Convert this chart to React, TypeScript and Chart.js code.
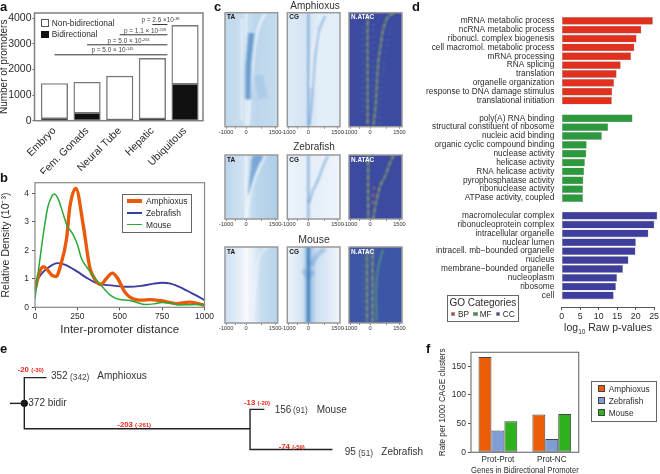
import React, { useEffect, useRef } from "react";
import Chart from "chart.js/auto";

const FONT = "'Liberation Sans', Arial, sans-serif";
const INK = "#2b2b2b";
const FRAME = "#808080";

// ---------- panel a
const tissues = ["Embryo", "Fem. Gonads", "Neural Tube", "Hepatic", "Ubiquitous"];
const bidirectional = [80, 300, 30, 70, 1430];
const nonBidirectional = [1370, 1200, 1710, 2360, 2290];
const pLine1 = [[3, 3750], [3.46, 3750]];
const pLine2 = [[2, 3350], [3.46, 3350]];
const pLine3 = [[1, 2960], [3.46, 2960]];
const pLine4 = [[0, 2570], [3.46, 2570]];

// ---------- panel b
const amphioxusDensity = [[0, .6], [25, 1.2], [50, 1.42], [75, 1.3], [100, 1.12], [125, 1.08], [150, 1.45], [186, 2.4], [205, 3.5], [241, 4.17], [284, 2.9], [323, 1.4], [352, 1], [387, .8], [420, 1], [456, 1.2], [489, 1], [528, .55], [577, .3], [636, .25], [675, .27], [753, .22], [832, .13], [910, .18], [968, .12], [1000, .07]];
const zebrafishDensity = [[0, .85], [50, 1.25], [100, 1.48], [130, 1.55], [175, 1.5], [250, 1.25], [300, 1.05], [375, .82], [450, .77], [550, .72], [625, .75], [700, .83], [750, .86], [800, .83], [875, .65], [950, .42], [1000, .25]];
const mouseDensity = [[0, .3], [25, 1.5], [50, 2.6], [75, 3.5], [100, 3.9], [115, 3.97], [140, 3.75], [170, 3.2], [190, 2.85], [225, 2.55], [250, 2.2], [275, 1.7], [300, 1.45], [350, 1.05], [400, .7], [450, .4], [500, .27], [550, .25], [600, .17], [650, .1], [700, .12], [750, .17], [800, .15], [850, .08], [900, .09], [1000, .1]];

// ---------- panel c: profile ridges as [bp from TSS, fraction of rows]
const amphTaGap = [[111, .985], [159, .795], [238, .62], [350, .385], [477, .21], [668, .09], [906, .006]];
const amphTaCore = [[95, .76], [100, .47], [170, .33], [250, .18]];
const amphTaLeft = [[-200, .05], [-200, .95]];
const amphTaRight = [[600, .55], [800, .75]];
const tssLine = [[0, 0], [0, 1]];
const amphCgRidge = [[48, .985], [159, .795], [270, .47], [366, .3], [509, .15], [795, .03]];
const amphCgGap = [[110, .66], [210, .36], [400, .15]];
const amphAtacTss = [[-125, .02], [-125, .98]];
const amphAtacLeft = [[-360, .12], [-360, .9]];
const amphAtacMain = [[156, .98], [265, .8], [375, .445], [484, .3], [609, .15], [843, .035], [1155, 0]];
const amphAtacRight = [[420, .98], [560, .6], [760, .32], [1000, .1]];
const amphAtacMid = [[140, .1], [140, .85]];

const zebTaPatch = [[95, .62], [221, .23], [332, .02], [805, .02], [568, .18], [332, .39], [126, .62]];
const zebTaGap = [[47, .99], [95, .78], [221, .55], [411, .36], [648, .18], [885, .01]];
const zebCgRidge = [[32, .75], [221, .55], [458, .39], [695, .18], [932, .01]];
const zebAtacTss = [[-95, .0], [-95, 1]];
const zebAtacMain = [[140, .99], [265, .76], [375, .6], [484, .47], [690, .34], [925, .13], [1115, 0]];
const zebAtacShort = [[110, .76], [175, .5]];

const mouseTaWedge = [[300, .95], [450, .45], [620, .12], [1000, 0]];
const mouseCgCore = [[0, 0], [0, 1]];
const mouseCgPatch = [[-250, .3], [0, .38], [250, .32]];
const mouseCgArm = [[100, .25], [450, .1], [800, .02]];
const mouseAtacA = [[-150, .05], [-150, .98]];
const mouseAtacB = [[110, .02], [110, .98]];
const mouseAtacC = [[300, .98], [290, .5], [430, .2], [620, .03]];
const mouseAtacD = [[-330, .15], [-330, .95]];

const amphTaStops: [number, string][] = [[-1000, "#bfd8ed"], [0, "#cadfef"], [500, "#bcd6ec"], [1500, "#c6dcee"]];
const amphCgStops: [number, string][] = [[-1000, "#dfebf7"], [0, "#d3e4f4"], [500, "#e2eef8"], [1500, "#e2edf8"]];
const zebTaStops: [number, string][] = [[-1000, "#bcd6ec"], [0, "#d5e5f3"], [500, "#bcd6ec"], [1500, "#b0cee8"]];
const zebCgStops: [number, string][] = [[-1000, "#ecf3fa"], [0, "#e3eef8"], [1500, "#edf4fa"]];
const mouseTaStops: [number, string][] = [[-1000, "#cde0f1"], [-500, "#dfebf6"], [0, "#f2f6fb"], [300, "#e9f1f9"], [700, "#c8ddef"], [1500, "#b7d3ea"]];
const mouseCgStops: [number, string][] = [[-1000, "#eef4fb"], [-300, "#d5e5f3"], [0, "#8fb9de"], [400, "#cde0f1"], [1500, "#eff5fb"]];
const atacBlue: [number, string][] = [[-1000, "#3c4aa2"], [1500, "#3c4aa2"]];
const atacMouse: [number, string][] = [[-1000, "#3d56a6"], [1500, "#3d56a6"]];

// ---------- panel d
const bpLabels = ["mRNA metabolic process", "ncRNA metabolic process", "ribonucl. complex biogenesis", "cell macromol. metabolic process", "mRNA processing", "RNA splicing", "translation", "organelle organization", "response to DNA damage stimulus", "translational initiation"];
const bpValues = [24.6, 21.5, 20.2, 19.6, 18.7, 15.9, 14.8, 14.1, 13.6, 13.5];
const mfLabels = ["poly(A) RNA binding", "structural constituent of ribosome", "nucleic acid binding", "organic cyclic compound binding", "nuclease activity", "helicase activity", "RNA helicase activity", "pyrophosphatase activity", "ribonuclease activity", "ATPase activity, coupled"];
const mfValues = [19.1, 12.5, 10.8, 6.7, 6.6, 6.2, 6.0, 5.8, 5.7, 5.7];
const ccLabels = ["macromolecular complex", "ribonucleoprotein complex", "intracellular organelle", "nuclear lumen", "intracell. mb\u2212bounded organelle", "nucleus", "membrane\u2212bounded organelle", "nucleoplasm", "ribosome", "cell"];
const ccValues = [25.8, 25, 23.4, 20, 19.9, 18, 16.5, 14.9, 14.6, 14];
const pValueTicks = [0, 5, 10, 15, 20, 25];

// ---------- panel e (x: branch length units from the root node, y: tree row)
const treeStem = [[-14.7, 68.3], [0, 68.3]];
const treeTrunk = [[22.6, 41], [0, 41], [0, 95.3], [230, 95.3]];
const treeMouseSplit = [[244.6, 74.7], [230, 74.7], [230, 117.3], [314, 117.3]];
const treeRoot = [[0, 68.3]];

// ---------- panel f
const pairTypes = ["Prot-Prot", "Prot-NC"];
const rateAmphioxus = [166, 66];
const rateZebrafish = [38, 23];
const rateMouse = [54, 67];

const ORANGE = "#ea5a0c";
const BAR_RED = "#e1301e";
const BAR_GREEN = "#2a9a3c";
const BAR_BLUE = "#3f3d9e";

const pts = (a: number[][]) => a.map(([x, y]) => ({ x, y }));

const framePlugin = (color = FRAME, width = 1.5) => ({
  id: "frame",
  afterDatasetsDraw(chart: any) {
    const { left, top, right, bottom } = chart.chartArea;
    const c = chart.ctx;
    c.save();
    c.strokeStyle = color;
    c.lineWidth = width;
    c.strokeRect(left, top, right - left, bottom - top);
    c.restore();
  },
});

const bgPlugin = (stops: [number, string][]) => ({
  id: "bgStops",
  beforeDatasetsDraw(chart: any) {
    const { left, top, right, bottom } = chart.chartArea;
    const c = chart.ctx;
    const g = c.createLinearGradient(left, 0, right, 0);
    const sc = chart.scales.x;
    stops.forEach(([v, col]) => g.addColorStop((sc.getPixelForValue(v) - left) / (right - left), col));
    c.save();
    c.fillStyle = g;
    c.fillRect(left, top, right - left, bottom - top);
    c.restore();
    c.filter = "blur(1px)";
  },
  afterDatasetsDraw(chart: any) {
    chart.ctx.filter = "none";
  },
});

type Rect = [number, number, number, number];
type Plot = { l: number; t: number; r: number; b: number };
const layoutOf = (rect: Rect, p: Plot) => ({
  padding: { left: 0, top: p.t - rect[1], right: rect[0] + rect[2] - p.r, bottom: 0 },
});
const base = (rect: Rect, p: Plot, extra: any = {}) => ({
  responsive: false,
  animation: false,
  events: [],
  layout: layoutOf(rect, p),
  plugins: { legend: { display: false }, tooltip: { enabled: false }, title: { display: false } },
  ...extra,
});
const fitW = (rect: Rect, p: Plot) => (s: any) => { s.width = p.l - rect[0]; };
const fitH = (rect: Rect, p: Plot) => (s: any) => { s.height = rect[1] + rect[3] - p.b; };
const tickGrid = (len = 3) => ({ drawOnChartArea: false, tickLength: len, color: "#555", offset: false });
const plainNumber = (v: number) => String(v);

// ---- panel a
const aRect: Rect = [-2, 0, 217, 174];
const aPlot: Plot = { l: 34.5, t: 13, r: 203, b: 120.7 };
const pLine = (d: number[][], id: string) => ({ type: "line", stack: id, data: pts(d), borderColor: "#333", borderWidth: 1, pointRadius: 0, tension: 0 });
const aConfig = {
  type: "bar",
  data: {
    datasets: [
      { label: "Bidirectional", data: bidirectional.map((y, x) => ({ x, y })), backgroundColor: "#111", borderColor: "#777", borderWidth: 1.4, barThickness: 26.5, borderSkipped: false },
      { label: "Non-bidirectional", data: nonBidirectional.map((y, x) => ({ x, y })), backgroundColor: "#fff", borderColor: "#777", borderWidth: 1.4, barThickness: 26.5, borderSkipped: false },
      pLine(pLine1, "p1"), pLine(pLine2, "p2"), pLine(pLine3, "p3"), pLine(pLine4, "p4"),
    ],
  },
  options: base(aRect, aPlot, {
    scales: {
      x: {
        type: "linear", stacked: true, offset: false, min: -0.61, max: 4.55,
        afterBuildTicks: (s: any) => { s.ticks = tissues.map((_, value) => ({ value })); },
        afterFit: fitH(aRect, aPlot),
        grid: { display: false, drawTicks: false, offset: false },
        border: { display: false },
        ticks: { autoSkip: false, minRotation: 45, maxRotation: 45, padding: 4, color: INK, font: { family: FONT, size: 10.5 }, callback: (v: number) => tissues[v] ?? "" },
      },
      y: {
        stacked: true, min: 0, max: 4200,
        afterBuildTicks: (s: any) => { s.ticks = [0, 1000, 2000, 3000, 4000].map((value) => ({ value })); },
        afterFit: fitW(aRect, aPlot),
        grid: tickGrid(2), border: { display: false },
        ticks: { padding: 1, color: INK, font: { family: FONT, size: 10.5 }, callback: plainNumber },
        title: { display: true, text: "Number of promoters", color: INK, padding: 0, font: { family: FONT, size: 10 } },
      },
    },
  }),
  plugins: [framePlugin()],
};

// ---- panel b
const bRect: Rect = [0, 172, 215, 165];
const bPlot: Plot = { l: 35, t: 182.7, r: 205.5, b: 307.3 };
const curve = (d: number[][], color: string, w: number) => ({ data: pts(d), borderColor: color, borderWidth: w, pointRadius: 0, showLine: true, tension: 0.4, cubicInterpolationMode: "monotone" });
const bConfig = {
  type: "scatter",
  data: { datasets: [curve(mouseDensity, "#2aa836", 1.5), curve(amphioxusDensity, ORANGE, 3.4), curve(zebrafishDensity, "#3a3f9e", 1.9)] },
  options: base(bRect, bPlot, {
    scales: {
      x: {
        type: "linear", min: 0, max: 1000,
        afterBuildTicks: (s: any) => { s.ticks = [0, 250, 500, 750, 1000].map((value) => ({ value })); },
        afterFit: fitH(bRect, bPlot),
        grid: tickGrid(3), border: { display: false },
        ticks: { maxRotation: 0, padding: 1, color: INK, font: { family: FONT, size: 8.5 }, callback: plainNumber },
        title: { display: true, text: "Inter-promoter distance", color: INK, padding: 0, font: { family: FONT, size: 11.5 } },
      },
      y: {
        min: 0, max: 4.37,
        afterBuildTicks: (s: any) => { s.ticks = [0, 1, 2, 3, 4].map((value) => ({ value })); },
        afterFit: fitW(bRect, bPlot),
        grid: tickGrid(3), border: { display: false },
        ticks: { padding: 3, color: INK, font: { family: FONT, size: 8.5 } },
        title: { display: true, text: "Relative Density (10\u207B\u00B3)", color: INK, padding: 0, font: { family: FONT, size: 10.5 } },
      },
    },
  }),
  plugins: [framePlugin("#888", 1.2)],
};

// ---- panel c
const ridgeStyles: Record<string, any> = {
  gapWhite: { borderColor: "rgba(240,247,252,.8)", borderWidth: 2.8 },
  gapSoft: { borderColor: "rgba(238,245,251,.55)", borderWidth: 3 },
  coreDark: { borderColor: "rgba(50,115,185,.6)", borderWidth: 5 },
  softDark: { borderColor: "rgba(90,150,205,.18)", borderWidth: 9 },
  tssWhite: { borderColor: "rgba(255,255,255,.9)", borderWidth: 1.3 },
  tssDark: { borderColor: "rgba(60,120,190,.6)", borderWidth: 1.8 },
  cgRidge: { borderColor: "rgba(80,140,205,.5)", borderWidth: 2.2 },
  coreBlue: { borderColor: "rgba(45,110,180,.7)", borderWidth: 3 },
  patch: { borderColor: "rgba(65,130,195,.28)", borderWidth: 5 },
  atacGreen: { borderColor: "rgba(95,180,115,.75)", borderWidth: 1.5 },
  atacRed: { borderColor: "rgba(235,125,60,.95)", borderWidth: 1.6, borderDash: [3, 4] },
  atacFaint: { borderColor: "rgba(100,175,150,.55)", borderWidth: 1.1, borderDash: [2, 4] },
  fillDark: { borderColor: "rgba(55,120,190,.5)", borderWidth: 0, backgroundColor: "rgba(55,120,190,.5)", fill: "shape" },
};
type Ridge = [string, number[][]];
const ridgeSet = (r: Ridge[]) => r.map(([style, d]) => ({ data: pts(d), pointRadius: 0, showLine: true, tension: 0.3, ...ridgeStyles[style] }));
const heatTicks = [-950, -500, 0, 750, 1380];
const heatLabel = (v: number) => (v < -900 ? "-1000" : v === 0 ? "0" : v > 1300 ? "1500" : "");
const heatConfig = (rect: Rect, p: Plot, stops: [number, string][], ridges: Ridge[]) => ({
  type: "scatter",
  data: { datasets: ridgeSet(ridges) },
  options: {
    ...base(rect, p),
    layout: { padding: { left: p.l - rect[0], right: rect[0] + rect[2] - p.r, top: p.t - rect[1], bottom: 0 } },
    scales: {
      x: {
        type: "linear", min: -1000, max: 1500,
        afterBuildTicks: (s: any) => { s.ticks = heatTicks.map((value) => ({ value })); },
        afterFit: fitH(rect, p),
        grid: { drawOnChartArea: false, tickLength: 2, color: "#888" }, border: { display: false },
        ticks: { autoSkip: false, maxRotation: 0, padding: 0, color: "#333", font: { family: FONT, size: 5.7 }, callback: heatLabel },
      },
      y: { type: "linear", display: false, min: 0, max: 1, reverse: true },
    },
  },
  plugins: [bgPlugin(stops), framePlugin("#999", 1.5)],
});
const cols = [[225, 277.7], [287.3, 340], [349, 402]];
const rows = [[12.7, 126.7], [155, 219], [247, 323]];
const heatSpecs: { col: number; row: number; stops: [number, string][]; ridges: Ridge[]; tag: string }[] = [
  { col: 0, row: 0, tag: "TA", stops: amphTaStops, ridges: [["softDark", amphTaRight], ["gapSoft", amphTaLeft], ["softDark", amphTaCore], ["coreDark", amphTaCore], ["gapWhite", amphTaGap], ["tssWhite", tssLine]] },
  { col: 1, row: 0, tag: "CG", stops: amphCgStops, ridges: [["gapSoft", amphCgGap], ["cgRidge", amphCgRidge], ["tssDark", tssLine]] },
  { col: 2, row: 0, tag: "N.ATAC", stops: atacBlue, ridges: [["atacFaint", amphAtacLeft], ["atacFaint", amphAtacMid], ["atacFaint", amphAtacRight], ["atacGreen", amphAtacTss], ["atacRed", amphAtacTss], ["atacGreen", amphAtacMain], ["atacRed", amphAtacMain]] },
  { col: 0, row: 1, tag: "TA", stops: zebTaStops, ridges: [["fillDark", zebTaPatch], ["gapWhite", zebTaGap], ["tssWhite", tssLine]] },
  { col: 1, row: 1, tag: "CG", stops: zebCgStops, ridges: [["cgRidge", zebCgRidge], ["tssDark", tssLine]] },
  { col: 2, row: 1, tag: "N.ATAC", stops: atacBlue, ridges: [["atacGreen", zebAtacTss], ["atacRed", zebAtacTss], ["atacGreen", zebAtacMain], ["atacRed", zebAtacMain], ["atacRed", zebAtacShort]] },
  { col: 0, row: 2, tag: "TA", stops: mouseTaStops, ridges: [["gapSoft", mouseTaWedge], ["tssWhite", tssLine]] },
  { col: 1, row: 2, tag: "CG", stops: mouseCgStops, ridges: [["patch", mouseCgPatch], ["patch", mouseCgArm], ["coreBlue", mouseCgCore]] },
  { col: 2, row: 2, tag: "N.ATAC", stops: atacMouse, ridges: [["atacFaint", mouseAtacD], ["atacGreen", mouseAtacA], ["atacGreen", mouseAtacB], ["atacRed", mouseAtacB], ["atacGreen", mouseAtacC], ["atacRed", mouseAtacA]] },
];

// ---- panel d
const dRect: Rect = [415, 4, 245, 322];
const dPlot: Plot = { l: 561.7, t: 11.2, r: 655.3, b: 307 };
const goRows = [...bpLabels, "", ...mfLabels, "", ...ccLabels];
const goBars = (vals: number[], start: number, color: string) => ({
  data: vals.map((x, i) => ({ x, y: start + i })),
  backgroundColor: color, borderColor: "#bbb", borderWidth: 0.6, barThickness: 7.3, clip: false, borderSkipped: false,
});
const dConfig = {
  type: "bar",
  data: { datasets: [goBars(bpValues, 0, BAR_RED), goBars(mfValues, 11, BAR_GREEN), goBars(ccValues, 22, BAR_BLUE)] },
  options: base(dRect, dPlot, {
    indexAxis: "y",
    scales: {
      x: {
        type: "linear", stacked: true, min: 0, max: 25,
        afterBuildTicks: (s: any) => { s.ticks = pValueTicks.map((value) => ({ value })); },
        afterFit: fitH(dRect, dPlot),
        grid: tickGrid(3), border: { display: true, color: "#555", width: 1 },
        ticks: { maxRotation: 0, padding: 1, color: INK, font: { family: FONT, size: 8.8 } },
      },
      y: {
        type: "linear", stacked: true, offset: false, reverse: true, min: -0.5, max: 32.3,
        afterBuildTicks: (s: any) => { s.ticks = goRows.map((_, value) => ({ value })); },
        afterFit: fitW(dRect, dPlot),
        grid: { display: false, drawTicks: false, offset: false }, border: { display: false },
        ticks: { autoSkip: false, padding: 7.4, color: INK, font: { family: FONT, size: 8.3 }, callback: (v: number) => goRows[v] ?? "" },
      },
    },
  }),
};

// ---- panel e
const eRect: Rect = [0, 335, 430, 139];
const eConfig = {
  type: "scatter",
  data: {
    datasets: [treeStem, treeTrunk, treeMouseSplit].map((d) => ({ data: pts(d), borderColor: "#222", borderWidth: 1.4, pointRadius: 0, showLine: true, tension: 0 }))
      .concat([{ data: pts(treeRoot), borderColor: "#111", backgroundColor: "#111", pointRadius: 3.6, borderWidth: 0, showLine: false, tension: 0 } as any]),
  },
  options: {
    ...base(eRect, { l: 0, t: 335, r: 430, b: 474 }),
    layout: { padding: 0 },
    scales: {
      x: { type: "linear", display: false, min: -20.7, max: 409.3 },
      y: { type: "linear", display: false, min: 0, max: 139, reverse: true },
    },
  },
};

// ---- panel f
const fRect: Rect = [438, 340, 150, 136];
const fPlot: Plot = { l: 471, t: 352.3, r: 578.7, b: 452.3 };
const rateBars = (data: number[], color: string) => ({ data, backgroundColor: color, borderColor: "#444", borderWidth: 1, borderSkipped: false, categoryPercentage: 0.72, barPercentage: 1 });
const fConfig = {
  type: "bar",
  data: { labels: pairTypes, datasets: [rateBars(rateAmphioxus, "#ec5c06"), rateBars(rateZebrafish, "#7f9ed8"), rateBars(rateMouse, "#2fb01f")] },
  options: base(fRect, fPlot, {
    scales: {
      x: {
        afterFit: fitH(fRect, fPlot),
        grid: { display: false, drawTicks: false }, border: { display: false },
        ticks: { maxRotation: 0, padding: 3, color: INK, font: { family: FONT, size: 8.2 } },
        title: { display: true, text: "Genes in Bidirectional Promoter", color: INK, padding: 0, font: { family: FONT, size: 8.6 } },
      },
      y: {
        min: 0, max: 174.4,
        afterBuildTicks: (s: any) => { s.ticks = [0, 50, 100, 150].map((value) => ({ value })); },
        afterFit: fitW(fRect, fPlot),
        grid: tickGrid(3), border: { display: false },
        ticks: { padding: 2, color: INK, font: { family: FONT, size: 8.5 } },
        title: { display: true, text: "Rate per 1000 CAGE clusters", color: INK, padding: 0, font: { family: FONT, size: 8.2 } },
      },
    },
  }),
  plugins: [framePlugin("#777", 1.2)],
};

function Panel({ rect, config }: { rect: Rect; config: any }) {
  const ref = useRef<HTMLCanvasElement>(null);
  useEffect(() => {
    const chart = new Chart(ref.current as HTMLCanvasElement, config);
    return () => chart.destroy();
  }, []);
  return <canvas ref={ref} width={rect[2]} height={rect[3]} style={{ position: "absolute", left: rect[0], top: rect[1], width: rect[2], height: rect[3], display: "block" }} />;
}

function T({ x, y, s = 10, c = INK, b = false, center = false, children }: any) {
  return (
    <div style={{ position: "absolute", left: x, top: y, transform: center ? "translate(-50%,-50%)" : "translateY(-50%)", fontSize: s, color: c, fontWeight: b ? 700 : 400, whiteSpace: "nowrap", lineHeight: 1, fontFamily: FONT }}>
      {children}
    </div>
  );
}
function Box({ x, y, w, h, bg, border, bw = 1 }: any) {
  return <div style={{ position: "absolute", left: x, top: y, width: w, height: h, background: bg, border: border ? `${bw}px solid ${border}` : undefined, boxSizing: "border-box" }} />;
}
const Sup = ({ children }: any) => <sup style={{ fontSize: "0.62em", lineHeight: 0, verticalAlign: "0.5em" }}>{children}</sup>;

const RED = "#e8291c";
function Red({ x, y, big, small }: any) {
  return <T x={x} y={y} s={7.8} c={RED} b>{big} <span style={{ fontSize: 6 }}>{small}</span></T>;
}
function Leaf({ x1, x2, x3, y, n, m, name }: any) {
  return (
    <>
      <T x={x1} y={y} s={10} c="#333">{n}</T>
      <T x={x2} y={y + 0.5} s={8.3} c="#444">{m}</T>
      <T x={x3} y={y} s={10} c="#333">{name}</T>
    </>
  );
}

export default function App() {
  return (
    <div style={{ position: "absolute", left: 0, top: 0, width: 660, height: 474, overflow: "hidden", background: "#fff", filter: "blur(0.35px)" }}>
      <Panel rect={aRect} config={aConfig} />
      <Panel rect={bRect} config={bConfig} />
      {heatSpecs.map((h, i) => {
        const p: Plot = { l: cols[h.col][0], r: cols[h.col][1], t: rows[h.row][0], b: rows[h.row][1] };
        const rect: Rect = [Math.floor(p.l) - 12, Math.floor(p.t) - 2, 78, Math.ceil(p.b - p.t) + 12];
        return (
          <React.Fragment key={i}>
            <Panel rect={rect} config={heatConfig(rect, p, h.stops, h.ridges)} />
            <T x={p.l + 2} y={p.t + 4.5} s={6.4} b c={h.tag === "N.ATAC" ? "#fff" : "#111"}>{h.tag}</T>
          </React.Fragment>
        );
      })}
      <Panel rect={dRect} config={dConfig} />
      <Panel rect={eRect} config={eConfig} />
      <Panel rect={fRect} config={fConfig} />

      <T x={0} y={6} s={13} b c="#111">a</T>
      <T x={0} y={177} s={13} b c="#111">b</T>
      <T x={214} y={6} s={13} b c="#111">c</T>
      <T x={412} y={6} s={13} b c="#111">d</T>
      <T x={0} y={348} s={13} b c="#111">e</T>
      <T x={426} y={348} s={13} b c="#111">f</T>

      {/* a legend and p-values */}
      <Box x={41} y={19} w={8} h={8} bg="#fff" border="#555" />
      <T x={51.7} y={22.5} s={8.4}>Non-bidirectional</T>
      <Box x={41} y={30.5} w={8} h={7} bg="#111" />
      <T x={51.7} y={34} s={8.4}>Bidirectional</T>
      <T x={141.5} y={20} s={6.4} c="#444">p = 2.6 ×10<Sup>-38</Sup></T>
      <T x={124} y={30.5} s={6.4} c="#444">p = 1.1 × 10<Sup>-209</Sup></T>
      <T x={107.5} y={40.5} s={6.4} c="#444">p = 5.0 × 10<Sup>-263</Sup></T>
      <T x={91.5} y={50} s={6.4} c="#444">p = 5.0 × 10<Sup>-145</Sup></T>

      {/* b legend */}
      <Box x={122} y={194} w={70} h={38.5} border="#666" />
      <Box x={126.7} y={199.3} w={15} h={3.4} bg={ORANGE} />
      <Box x={126.7} y={212} w={15} h={1.9} bg="#3a3f9e" />
      <Box x={126.7} y={223.5} w={15} h={1.5} bg="#2aa836" />
      <T x={146} y={201} s={8.4}>Amphioxus</T>
      <T x={146} y={213} s={8.4}>Zebrafish</T>
      <T x={146} y={224.5} s={8.4}>Mouse</T>

      {/* c titles */}
      <T x={315} y={6} s={10} center c="#333">Amphioxus</T>
      <T x={314} y={147} s={10} center c="#333">Zebrafish</T>
      <T x={314} y={239} s={10.5} center c="#333">Mouse</T>

      {/* d legend and axis title */}
      <T x={608} y={327} s={10.5} center>log<sub style={{ fontSize: 6.5, lineHeight: 0 }}>10</sub> Raw p-values</T>
      <Box x={446.7} y={295} w={72.6} h={26.5} bg="#fff" border="#666" />
      <T x={449.5} y={302.5} s={10}>GO Categories</T>
      <Box x={450.7} y={311.7} w={4.6} h={4.6} bg={BAR_RED} border="#999" bw={0.5} />
      <T x={458} y={314} s={8.3}>BP</T>
      <Box x={473.3} y={311.7} w={4.6} h={4.6} bg={BAR_GREEN} border="#999" bw={0.5} />
      <T x={479.7} y={314} s={8.3}>MF</T>
      <Box x={495.7} y={311.7} w={4.6} h={4.6} bg={BAR_BLUE} border="#999" bw={0.5} />
      <T x={502.7} y={314} s={8.3}>CC</T>

      {/* e labels */}
      <Red x={17.7} y={370} big="-20" small="(-30)" />
      <Leaf x1={51} x2={70} x3={97.3} y={376} n="352" m="(342)" name="Amphioxus" />
      <T x={28.3} y={402.7} s={10} c="#333">372 bidir</T>
      <Red x={117.3} y={425} big="-203" small="(-261)" />
      <Red x={244} y={403} big="-13" small="(-20)" />
      <Leaf x1={274.7} x2={293} x3={316.7} y={409.7} n="156" m="(91)" name="Mouse" />
      <Red x={278.7} y={446.7} big="-74" small="(-59)" />
      <Leaf x1={344.7} x2={358.3} x3={381.3} y={452} n="95" m="(51)" name="Zebrafish" />

      {/* f legend */}
      <Box x={591} y={380.7} w={66} h={41} border="#666" />
      <Box x={598} y={385} w={7.3} h={7.3} bg="#ec5c06" border="#444" />
      <Box x={598} y={397} w={7.3} h={7.3} bg="#7f9ed8" border="#444" />
      <Box x={598} y={409} w={7.3} h={7.3} bg="#2fb01f" border="#444" />
      <T x={608.7} y={388.7} s={8.3}>Amphioxus</T>
      <T x={608.7} y={400.7} s={8.3}>Zebrafish</T>
      <T x={608.7} y={412.7} s={8.3}>Mouse</T>
    </div>
  );
}
